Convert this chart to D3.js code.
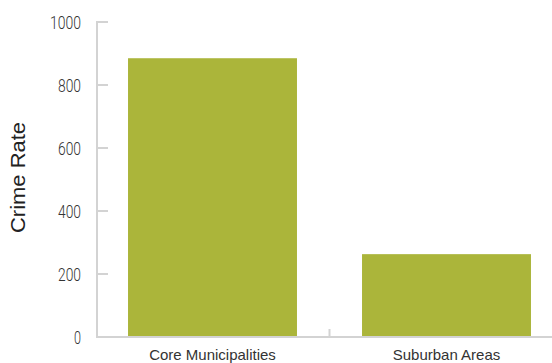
<!DOCTYPE html>
<html><head><meta charset="utf-8">
<script src="https://cdn.jsdelivr.net/npm/d3@7"></script>
<style>body{margin:0;background:#fff}</style>
</head><body>
<svg id="c" width="552" height="363"></svg>
<script>
const categories = ["Core Municipalities", "Suburban Areas"];
const values = [885, 263];
const yTicks = [0, 200, 400, 600, 800, 1000];

const svg = d3.select("#c");
const y = d3.scaleLinear().domain([0, 1000]).range([337, 22]);
const x = d3.scaleBand().domain(categories).range([95.5, 563.5]).paddingInner(0.278).paddingOuter(0.139);

svg.append("line").attr("x1", 97).attr("x2", 97).attr("y1", 21).attr("y2", 338)
  .attr("stroke", "#d3d3d3").attr("stroke-width", 2);
svg.append("line").attr("x1", 96).attr("x2", 552).attr("y1", 337).attr("y2", 337)
  .attr("stroke", "#d3d3d3").attr("stroke-width", 2);

const yt = svg.append("g");
yTicks.forEach(t => {
  yt.append("line").attr("x1", 97).attr("x2", 108).attr("y1", y(t)).attr("y2", y(t))
    .attr("stroke", "#d3d3d3").attr("stroke-width", 2);
  const s = String(t);
  yt.append("text").attr("x", 81).attr("y", y(t)).attr("dy", "0.36em")
    .attr("text-anchor", "end").attr("font-family", "Roboto,'Liberation Sans',sans-serif")
    .attr("font-weight", 300)
    .attr("font-size", 19).attr("fill", "#333")
    .attr("textLength", 8 * s.length - 1).attr("lengthAdjust", "spacingAndGlyphs")
    .text(s);
});

const mid = (x(categories[0]) + x.bandwidth() + x(categories[1])) / 2;
svg.append("line").attr("x1", mid).attr("x2", mid).attr("y1", 329).attr("y2", 337)
  .attr("stroke", "#d3d3d3").attr("stroke-width", 2);

svg.selectAll("rect.bar").data(values).enter().append("rect")
  .attr("x", (d, i) => x(categories[i])).attr("width", x.bandwidth())
  .attr("y", d => y(d)).attr("height", d => y(0) - y(d) - 1)
  .attr("fill", "#abb53a");

svg.selectAll("text.cat").data(categories).enter().append("text")
  .attr("x", d => x(d) + x.bandwidth() / 2).attr("y", 360)
  .attr("text-anchor", "middle").attr("font-family", "'Liberation Sans','Arial',sans-serif")
  .attr("font-size", 15).attr("fill", "#333").text(d => d);

svg.append("text").attr("transform", "translate(25,177.5) rotate(-90)")
  .attr("text-anchor", "middle").attr("font-family", "'Liberation Sans','Arial',sans-serif")
  .attr("font-size", 20).attr("fill", "#222")
  .attr("textLength", 111).attr("lengthAdjust", "spacingAndGlyphs")
  .text("Crime Rate");
</script>
</body></html>
